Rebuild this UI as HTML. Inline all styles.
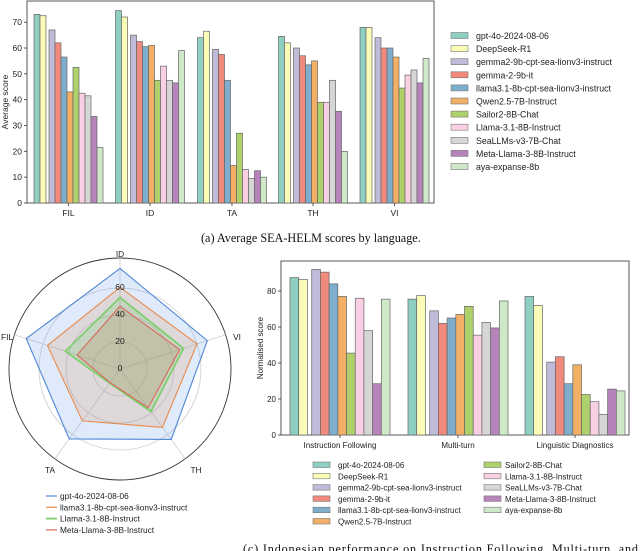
<!DOCTYPE html>
<html><head><meta charset="utf-8"><style>
html,body{margin:0;padding:0;background:#fff;}
svg{display:block;font-family:"Liberation Sans","DejaVu Sans",sans-serif;}
.cap{font-family:"Liberation Serif",serif;}
</style></head><body>
<svg id="fig" width="640" height="551" viewBox="0 0 640 551" xmlns="http://www.w3.org/2000/svg">
<g id="top"></g>
<g id="radar"></g>
<g id="bot"></g>
<text class="cap" x="201" y="242" font-size="12.2" fill="#111">(a) Average SEA-HELM scores by language.</text>
<text class="cap" x="243" y="553" font-size="12.2" fill="#111" textLength="395">(c) Indonesian performance on Instruction Following, Multi-turn, and</text>
</svg>
<script>
const models = ["gpt-4o-2024-08-06","DeepSeek-R1","gemma2-9b-cpt-sea-lionv3-instruct","gemma-2-9b-it","llama3.1-8b-cpt-sea-lionv3-instruct","Qwen2.5-7B-Instruct","Sailor2-8B-Chat","Llama-3.1-8B-Instruct","SeaLLMs-v3-7B-Chat","Meta-Llama-3-8B-Instruct","aya-expanse-8b"];
const colors = ["#8fcfc2","#fbfbb8","#bfbbd8","#f08a7c","#7faecd","#f2b067","#aed16b","#f9d0e3","#d6d6d6","#b684bb","#cfe8c8"];
const languages = ["FIL","ID","TA","TH","VI"];
const langScores = [
 [73,72.5,67,62,56.5,43,52.5,42.5,41.5,33.5,21.5],
 [74.5,72,65,62.5,60.5,61,47.5,53,47.5,46.5,59],
 [64,66.5,59.5,57.5,47.5,14.5,27,13,9.5,12.5,10],
 [64.5,62,60,57,53.5,55,39,39,47.5,35.5,20],
 [68,68,64,60,60,56.5,44.5,49.5,51.5,46.5,56]
];
const topTicks = [0,10,20,30,40,50,60,70];
const tasks = ["Instruction Following","Multi-turn","Linguistic Diagnostics"];
const taskScores = [
 [87.5,86.5,92,90.5,84,77,45.5,76,58,28.5,75.5],
 [75.5,77.5,69,62,65,67,71.5,55.5,62.5,59.5,74.5],
 [77,72,40.5,43.5,28.5,39,22.5,18.5,11.5,25.5,24.5]
];
const botTicks = [0,20,40,60,80];
const radarAxes = ["ID","VI","TH","TA","FIL"];
const radarModels = [0,4,7,9];
const radarLabels = ["gpt-4o-2024-08-06","llama3.1-8b-cpt-sea-lionv3-instruct","Llama-3.1-8B-Instruct","Meta-Llama-3-8B-Instruct"];
const radarTicks = [0,20,40,60];

const NS="http://www.w3.org/2000/svg";
function mk(tag,attrs,parent,text){const e=document.createElementNS(NS,tag);for(const k in attrs)e.setAttribute(k,attrs[k]);if(text!==undefined)e.textContent=text;parent.appendChild(e);return e;}

function barChart(g,opt){
 const {L,T,R,B,ymax,cats,scores,ticks,ylabel,ylabelX,slotW,centers,fs}=opt;
 const y=v=>B-(v/ymax)*(B-T);
 const frame=mk('rect',{x:L,y:T,width:R-L,height:B-T,fill:'none',stroke:'#555','stroke-width':1},g);
 
 
 ticks.forEach(t=>{
  const l=mk('line',{x1:L-3,x2:L,y1:y(t),y2:y(t),stroke:'#333','stroke-width':0.8},g);
  
  
  const tx=mk('text',{x:L-5,y:y(t)+3,'font-size':fs,'text-anchor':'end',fill:'#222'},g,String(t));
  
  
 });
 const yl=mk('text',{x:ylabelX,y:(T+B)/2,'font-size':fs,'text-anchor':'middle',fill:'#222',transform:`rotate(-90 ${ylabelX} ${(T+B)/2})`},g,ylabel);
 
 
 cats.forEach((c,ci)=>{
  const cx=centers[ci];
  const total=11.5*slotW;
  const x0=cx-total/2;
  scores[ci].forEach((v,mi)=>{
   const x=x0+(mi+(mi>=2?0.5:0))*slotW;
   const r=mk('rect',{x:x,y:y(v),width:slotW,height:B-y(v),fill:colors[mi],stroke:'#666','stroke-width':0.7},g);
   
   
  });
  const tl=mk('line',{x1:cx,x2:cx,y1:B,y2:B+3,stroke:'#333','stroke-width':0.8},g);
  
  
  const lb=mk('text',{x:cx,y:B+13,'font-size':fs,'text-anchor':'middle',fill:'#222'},g,c);
  
  
 });
}
barChart(document.getElementById('top'),{L:27,T:1,R:434,B:203,ymax:78.2,cats:languages,scores:langScores,ticks:topTicks,ylabel:'Average score',ylabelX:8,slotW:6,centers:[68.5,150,232,313,394.5],fs:8.5});
const tg=document.getElementById('top');
models.forEach((m,i)=>{
 const yy=36+i*13.1;
 const s=mk('rect',{x:451,y:yy-3.5,width:17,height:6,fill:colors[i],stroke:'#777','stroke-width':0.6},tg);
 
 
 const t=mk('text',{x:476,y:yy+3,'font-size':8.8,fill:'#222'},tg,m);
 
 
});
barChart(document.getElementById('bot'),{L:281,T:261,R:629,B:435,ymax:96.7,cats:tasks,scores:taskScores,ticks:botTicks,ylabel:'Normalised score',ylabelX:263,slotW:8.7,centers:[340,458,575],fs:8});
const bg=document.getElementById('bot');
models.forEach((m,i)=>{
 const col=i<6?0:1, row=i<6?i:i-6;
 const yy=465+row*11.3;
 const sx=col?484:313, tx=col?505:338;
 const s=mk('rect',{x:sx,y:yy-3,width:17,height:5.5,fill:colors[i],stroke:'#777','stroke-width':0.6},bg);
 
 
 const t=mk('text',{x:tx,y:yy+3,'font-size':8,fill:'#222'},bg,m);
 
 
});
const rg=document.getElementById('radar');
const CX=120,CY=369,RO=111,SC=1.35;
const ang=i=>(90-72*i)*Math.PI/180;
const pt=(i,v)=>[CX+v*SC*Math.cos(ang(i)),CY-v*SC*Math.sin(ang(i))];
const oc=mk('circle',{cx:CX,cy:CY,r:RO,fill:'none',stroke:'#333','stroke-width':0.9},rg);


[20,40,60].forEach(t=>{
 const c=mk('circle',{cx:CX,cy:CY,r:t*SC,fill:'none',stroke:'#ccc','stroke-width':0.8},rg);
 
 
});
radarAxes.forEach((a,i)=>{
 const [x,y]=[CX+RO*Math.cos(ang(i)),CY-RO*Math.sin(ang(i))];
 const l=mk('line',{x1:CX,y1:CY,x2:x,y2:y,stroke:'#ccc','stroke-width':0.8},rg);
 
 
});
const rc=[["#4f86d6","rgba(110,165,230,0.22)"],["#e98a4a","rgba(220,150,110,0.22)"],["#7fcf6e","rgba(120,200,110,0.25)"],["#d9675a","rgba(190,120,80,0.2)"]];
const langIdx={FIL:0,ID:1,TA:2,TH:3,VI:4};
radarModels.forEach((mi,k)=>{
 const pts=radarAxes.map((a,i)=>pt(i,langScores[langIdx[a]][mi]).join(',')).join(' ');
 const p=mk('polygon',{points:pts,fill:rc[k][1],stroke:rc[k][0],'stroke-width':k===2?1.8:1.1},rg);
 
 
});
radarTicks.forEach(t=>{
 const tx=mk('text',{x:CX,y:CY-t*SC+2,'font-size':8.5,'text-anchor':'middle',fill:'#222'},rg,String(t));
 
 
});
const labPos=[[120,257],[237,340],[196,473],[50,473],[7,340]];
radarAxes.forEach((a,i)=>{
 const t=mk('text',{x:labPos[i][0],y:labPos[i][1],'font-size':8.3,'text-anchor':'middle',fill:'#222'},rg,a);
 
 
});
radarLabels.forEach((m,k)=>{
 const yy=496+k*11.3;
 const l=mk('line',{x1:46,x2:57,y1:yy,y2:yy,stroke:rc[k][0],'stroke-width':k===2?1.8:1.2},rg);
 
 
 const t=mk('text',{x:60,y:yy+3,'font-size':8.3,fill:'#222'},rg,m);
 
 
});
</script>
</body></html>
